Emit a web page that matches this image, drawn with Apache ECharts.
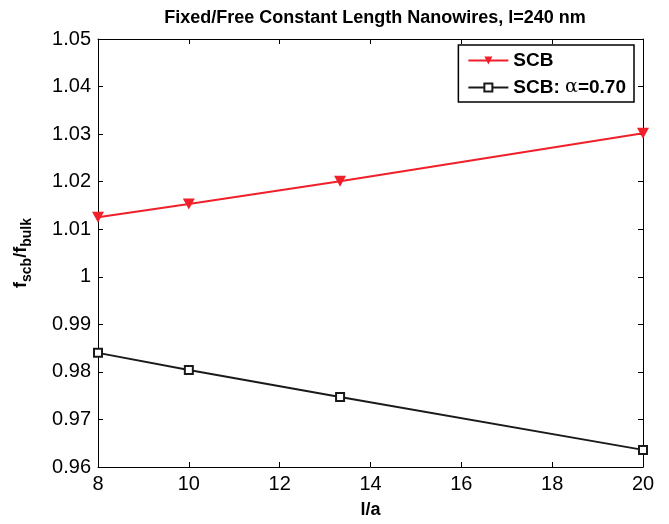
<!DOCTYPE html>
<html>
<head>
<meta charset="utf-8">
<script src="https://cdn.jsdelivr.net/npm/echarts@6/dist/echarts.min.js"></script>
<style>
  html, body { margin: 0; padding: 0; background: #fff; }
  #box { width: 669px; height: 524px; }
</style>
</head>
<body>
<div id="box"></div>
<script>
var mychart = echarts.init(document.getElementById("box"));

// l/a values
var ratios = [8, 10, 13.33, 20];
// f_scb / f_bulk
var scbData = [1.0125, 1.0153, 1.0201, 1.0302];
var scbAlphaData = [0.9840, 0.9804, 0.9747, 0.9636];

function pairs(xs, ys) {
    return xs.map(function (x, i) { return [x, ys[i]]; });
}

var fontFam = '"Liberation Sans", Arial, Helvetica, sans-serif';
var triDown = 'path://M0,0 L10,0 L5,9 Z';

var boxAxis = {
    axisLine: { show: true, lineStyle: { color: '#000', width: 1 } },
    axisTick: { show: true, inside: true, length: 5, lineStyle: { color: '#000' } },
    axisLabel: { show: false },
    splitLine: { show: false }
};

var options = {
    animation: false,
    title: {
        text: 'Fixed/Free Constant Length Nanowires, l=240 nm',
        left: 370,
        textAlign: 'center',
        top: 4,
        textStyle: { fontFamily: fontFam, fontSize: 18, fontWeight: 'bold', color: '#000' }
    },
    grid: { left: 98, right: 26, top: 39, bottom: 57, containLabel: false, outerBoundsMode: 'none' },
    legend: {
        right: 35,
        top: 45,
        orient: 'vertical',
        itemWidth: 40,
        itemHeight: 10,
        itemGap: 8,
        padding: [6, 8, 5, 9],
        borderColor: '#000',
        borderWidth: 1.5,
        backgroundColor: '#fff',
        formatter: function (name) {
            return name.replace('α', '{g|α}');
        },
        textStyle: {
            fontFamily: fontFam, fontSize: 19, fontWeight: 'bold', color: '#000',
            rich: { g: { fontFamily: '"DejaVu Serif", serif', fontSize: 19, fontWeight: 'normal', color: '#000' } }
        },
        data: ['SCB', 'SCB: α=0.70']
    },
    xAxis: [{
        type: 'value',
        min: 8,
        max: 20,
        interval: 2,
        name: 'l/a',
        nameLocation: 'middle',
        nameGap: 34,
        nameTextStyle: { fontFamily: fontFam, fontSize: 18, fontWeight: 'bold', color: '#000' },
        axisLine: { show: true, lineStyle: { color: '#000', width: 1 } },
        axisTick: { show: true, inside: true, length: 5, lineStyle: { color: '#000' } },
        axisLabel: { fontFamily: fontFam, fontSize: 20, color: '#000', margin: 7 },
        splitLine: { show: false }
    }, Object.assign({ type: 'value', position: 'top', min: 8, max: 20, interval: 2 }, boxAxis)],
    yAxis: [{
        type: 'value',
        min: 0.96,
        max: 1.05,
        interval: 0.01,
        name: 'f{sub|scb}/f{sub|bulk}',
        nameLocation: 'middle',
        nameGap: 64,
        nameTextStyle: {
            fontFamily: fontFam, fontSize: 18, fontWeight: 'bold', color: '#000',
            rich: { sub: { fontFamily: fontFam, fontSize: 14, fontWeight: 'bold', color: '#000', verticalAlign: 'bottom', padding: [12, 0, 0, 0] } }
        },
        axisLine: { show: true, lineStyle: { color: '#000', width: 1 } },
        axisTick: { show: true, inside: true, length: 5, lineStyle: { color: '#000' } },
        axisLabel: {
            fontFamily: fontFam, fontSize: 20, color: '#000', margin: 7,
            formatter: function (v) { return String(parseFloat(v.toFixed(2))); }
        },
        splitLine: { show: false }
    }, Object.assign({ type: 'value', position: 'right', min: 0.96, max: 1.05, interval: 0.01 }, boxAxis)],
    series: [{
        name: 'SCB',
        type: 'line',
        symbol: triDown,
        symbolSize: [12, 11],
        itemStyle: { color: '#f0202a' },
        lineStyle: { color: '#f0202a', width: 2 },
        data: pairs(ratios, scbData)
    }, {
        name: 'SCB: α=0.70',
        type: 'line',
        symbol: 'rect',
        symbolSize: 8,
        itemStyle: { color: '#fff', borderColor: '#1a1a1a', borderWidth: 2 },
        lineStyle: { color: '#1a1a1a', width: 2 },
        data: pairs(ratios, scbAlphaData)
    }]
};

mychart.setOption(options);
</script>
</body>
</html>
